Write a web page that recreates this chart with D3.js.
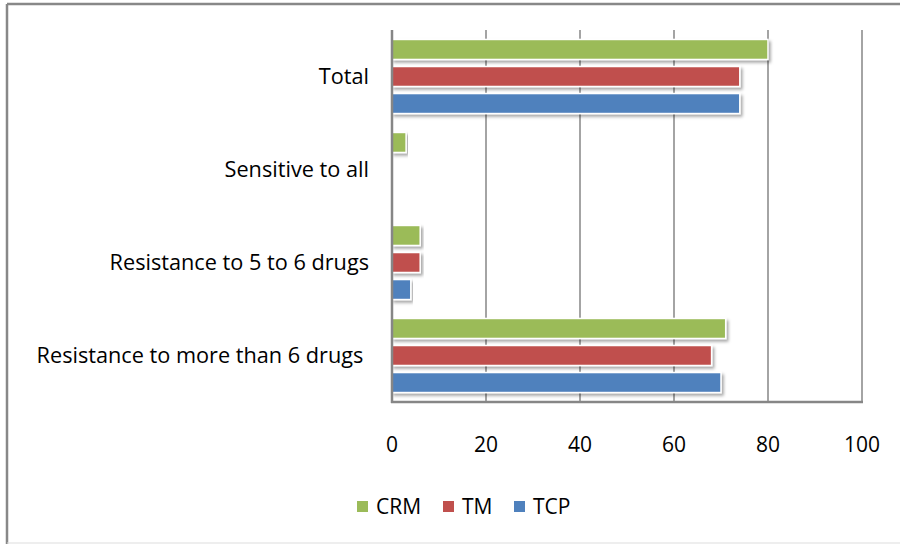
<!DOCTYPE html>
<html>
<head>
<meta charset="utf-8">
<script src="https://cdn.jsdelivr.net/npm/d3@7"></script>
<style>
  body { margin: 0; background: #fff; }
  svg text { font-family: "Open Sans", Lato, sans-serif; fill: #000; }
</style>
</head>
<body>
<script>
// chart data
var categories = ["Total", "Sensitive to all", "Resistance to 5 to 6 drugs", "Resistance to more than 6 drugs "];
var seriesNames = ["CRM", "TM", "TCP"];
var crmValues = [80, 3, 6, 71];
var tmValues = [74, 0, 6, 68];
var tcpValues = [74, 0, 4, 70];
var xTicks = [0, 20, 40, 60, 80, 100];
var colors = ["#9BBB59", "#C0504D", "#4F81BD"];

var seriesValues = [crmValues, tmValues, tcpValues];
var rows = categories.map(function (c, i) {
    return { cat: c, vals: seriesNames.map(function (s, j) { return { key: s, value: seriesValues[j][i] }; }) };
});

var svg = d3.select("body").append("svg")
    .attr("width", 900)
    .attr("height", 544);

var defs = svg.append("defs");
var f = defs.append("filter").attr("id", "shadow")
    .attr("x", "-5%").attr("y", "-20%").attr("width", "115%").attr("height", "160%");
f.append("feDropShadow")
    .attr("dx", 2).attr("dy", 2.5).attr("stdDeviation", 1.6)
    .attr("flood-color", "#000").attr("flood-opacity", 0.35);

// outer frame
svg.append("line").attr("x1", 7).attr("x2", 900).attr("y1", 4).attr("y2", 4)
    .attr("stroke", "#888").attr("stroke-width", 2.5);
svg.append("line").attr("x1", 7).attr("x2", 7).attr("y1", 4).attr("y2", 544)
    .attr("stroke", "#888").attr("stroke-width", 2.5);
svg.append("line").attr("x1", 7).attr("x2", 900).attr("y1", 543).attr("y2", 543)
    .attr("stroke", "#ddd").attr("stroke-width", 1);

var x = d3.scaleLinear().domain([0, 100]).range([392, 862]);
var y = d3.scaleBand().domain(categories).range([30, 402]);
var y1 = d3.scaleBand().domain(seriesNames).range([0, y.bandwidth()])
    .paddingInner(0.26).paddingOuter(0.35);
var color = d3.scaleOrdinal().domain(seriesNames).range(colors);

// gridlines
svg.append("g")
    .selectAll("line")
    .data(xTicks.slice(1))
    .enter().append("line")
    .attr("x1", function (d) { return x(d); })
    .attr("x2", function (d) { return x(d); })
    .attr("y1", 30)
    .attr("y2", 402)
    .attr("stroke", "#868686")
    .attr("stroke-width", 1.5);

// bars
svg.append("g")
    .selectAll("g")
    .data(rows)
    .enter().append("g")
    .attr("transform", function (d) { return "translate(0," + y(d.cat) + ")"; })
    .selectAll("rect")
    .data(function (d) { return d.vals.filter(function (v) { return v.value > 0; }); })
    .enter().append("rect")
    .attr("x", x(0))
    .attr("y", function (d) { return y1(d.key); })
    .attr("width", function (d) { return x(d.value) - x(0); })
    .attr("height", y1.bandwidth())
    .attr("fill", function (d) { return color(d.key); })
    .attr("stroke", "#fff")
    .attr("stroke-width", 1.5)
    .attr("filter", "url(#shadow)");

// axes lines
svg.append("line").attr("x1", x(0)).attr("x2", x(0)).attr("y1", 30).attr("y2", 403)
    .attr("stroke", "#868686").attr("stroke-width", 2.5);
svg.append("line").attr("x1", x(0) - 1).attr("x2", x(100) + 1).attr("y1", 402).attr("y2", 402)
    .attr("stroke", "#868686").attr("stroke-width", 2.5);

// x tick labels
svg.append("g")
    .selectAll("text")
    .data(xTicks)
    .enter().append("text")
    .attr("x", function (d) { return x(d); })
    .attr("y", 452)
    .attr("text-anchor", "middle")
    .style("font-size", "21px")
    .text(function (d) { return d; });

// category labels
svg.append("g")
    .selectAll("text")
    .data(categories)
    .enter().append("text")
    .attr("x", 369)
    .attr("y", function (d) { return y(d) + y.bandwidth() / 2 + 7.5; })
    .attr("text-anchor", "end")
    .style("white-space", "pre")
    .style("font-size", "21.7px")
    .text(function (d) { return d; });

// legend
var legendX = [357, 443, 514];
var legend = svg.append("g")
    .selectAll("g")
    .data(seriesNames)
    .enter().append("g")
    .attr("transform", function (d, i) { return "translate(" + legendX[i] + ",501)"; });
legend.append("rect")
    .attr("width", 11).attr("height", 11)
    .attr("fill", function (d) { return color(d); });
legend.append("text")
    .attr("x", 19).attr("y", 13)
    .style("font-size", "21px")
    .text(function (d) { return d; });
</script>
</body>
</html>
